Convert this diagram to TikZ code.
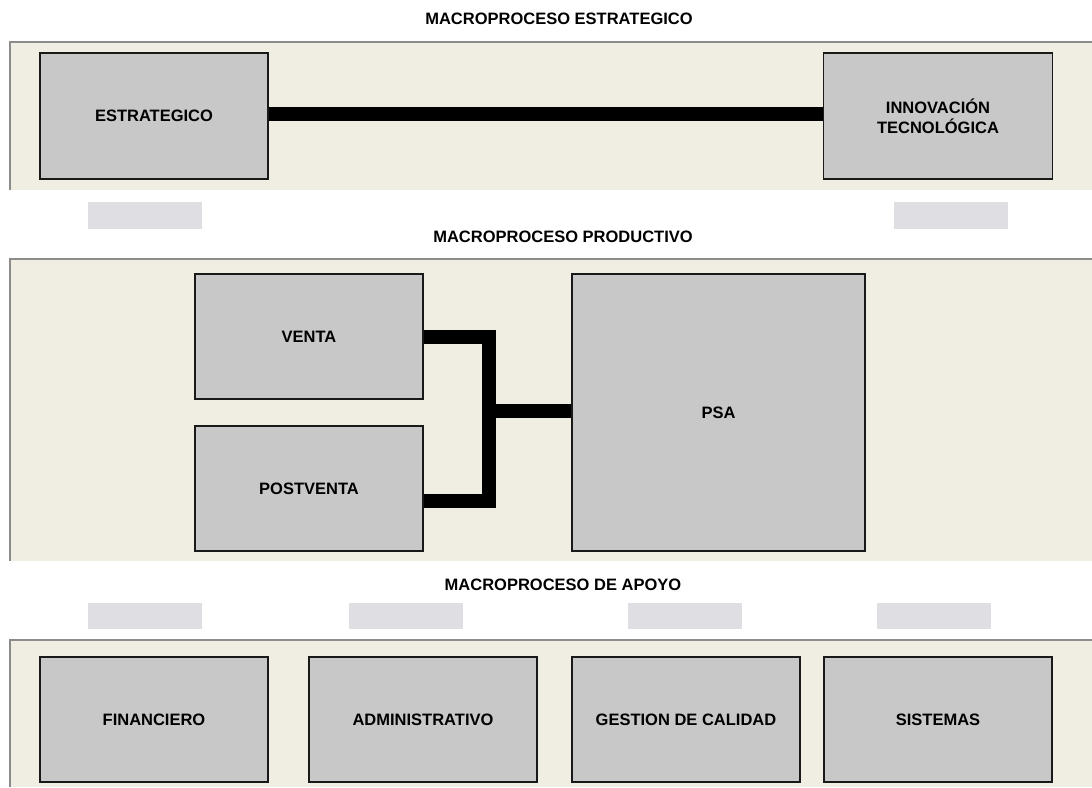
\documentclass[tikz,border=0pt]{standalone}
\usepackage{fontspec}
\setmainfont{Liberation Sans}
\definecolor{bandfill}{HTML}{F0EEE2}
\definecolor{bandline}{HTML}{8C8C8C}
\definecolor{boxfill}{HTML}{C8C8C8}
\definecolor{phfill}{HTML}{DFDFE3}
\tikzset{
  box/.style={draw=black!90, fill=boxfill, line width=1.3pt, rectangle, inner sep=0pt,
    align=center, font=\fontsize{16.5}{20}\selectfont\bfseries},
  title/.style={font=\fontsize{16.5}{20}\selectfont\bfseries, inner sep=0pt},
  conn/.style={draw=black, line width=14pt, line join=miter},
  band/.style={fill=bandfill},
  bandedge/.style={draw=bandline, line width=2pt},
  ph/.style={fill=phfill}
}
\begin{document}
\begin{tikzpicture}[x=1pt,y=-1pt]
\useasboundingbox[fill=white] (0,0) rectangle (1092,787);
% bands
\fill[band] (9,41) rectangle (1092,190);
\draw[bandedge] (10,190) -- (10,41.5) -- (1092,41.5);
\fill[band] (9,258) rectangle (1092,561);
\draw[bandedge] (10,561) -- (10,258.5) -- (1092,258.5);
\fill[band] (9,639) rectangle (1092,787);
\draw[bandedge] (10,787) -- (10,639.5) -- (1092,639.5);
% placeholders
\fill[ph] (88,202) rectangle (202,229);
\fill[ph] (894,202) rectangle (1008,229);
\fill[ph] (88,603) rectangle (202,629);
\fill[ph] (349,603) rectangle (463,629);
\fill[ph] (628,603) rectangle (742,629);
\fill[ph] (877,603) rectangle (991,629);
% titles
\node[title] (t1) at (559,19) {MACROPROCESO ESTRATEGICO};
\node[title] (t2) at (563,237) {MACROPROCESO PRODUCTIVO};
\node[title] (t3) at (563,585) {MACROPROCESO DE APOYO};
% strategic
\node[box, line width=2.7pt, minimum width=228, minimum height=126] (estr) at (154,116) {ESTRATEGICO};
\node[box, minimum width=229, minimum height=126] (innov) at (938,116) {INNOVACIÓN\\TECNOLÓGICA};
% productive
\node[box, minimum width=228, minimum height=125] (venta) at (309,336.5) {VENTA};
\node[box, minimum width=228, minimum height=125] (postventa) at (309,488.5) {POSTVENTA};
\node[box, minimum width=293, minimum height=277] (psa) at (718.5,412.5) {PSA};
% support
\node[box, minimum width=228, minimum height=125] (fin) at (154,719.5) {FINANCIERO};
\node[box, minimum width=228, minimum height=125] (adm) at (423,719.5) {ADMINISTRATIVO};
\node[box, minimum width=228, minimum height=125] (gest) at (686,719.5) {GESTION DE CALIDAD};
\node[box, minimum width=228, minimum height=125] (sist) at (938,719.5) {SISTEMAS};
% connectors
\coordinate (jb) at (489,501);
\coordinate (jm) at (489,411);
\draw[conn] ([yshift=2.5pt]estr.east) -- ([yshift=2.5pt]innov.west);
\draw[conn] (venta.east) -| (jb) -- (jb -| postventa.east);
\draw[conn] (jm) -- (jm -| psa.west);
\end{tikzpicture}
\end{document}
